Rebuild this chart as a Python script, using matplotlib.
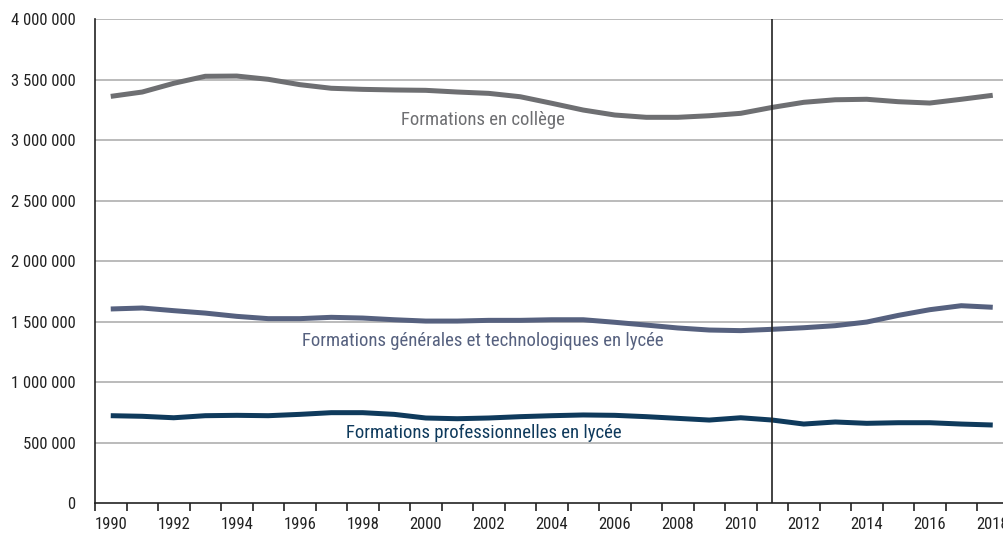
import matplotlib
matplotlib.use("Agg")
import matplotlib.pyplot as plt
from matplotlib.ticker import FixedLocator, FuncFormatter, NullFormatter

plt.rcParams['font.family'] = ['Liberation Sans Narrow', 'Roboto Condensed', 'DejaVu Sans Condensed', 'DejaVu Sans']

years = list(range(1990, 2019))
college = [3363000, 3399000, 3471000, 3529000, 3531000, 3504000, 3460000, 3430000,
           3421000, 3416000, 3413000, 3399000, 3388000, 3360000, 3306000, 3250000,
           3209000, 3190000, 3190000, 3203000, 3223000, 3272000, 3314000, 3335000,
           3339000, 3319000, 3308000, 3339000, 3372000]
generales = [1606000, 1614000, 1592000, 1572000, 1545000, 1526000, 1526000, 1537000,
             1531000, 1517000, 1506000, 1506000, 1512000, 1512000, 1517000, 1517000,
             1496000, 1473000, 1449000, 1432000, 1427000, 1438000, 1451000, 1468000,
             1498000, 1553000, 1600000, 1633000, 1620000]
pro = [724000, 719000, 707000, 724000, 727000, 724000, 735000, 749000,
       749000, 735000, 705000, 699000, 705000, 716000, 724000, 730000,
       727000, 716000, 702000, 688000, 707000, 688000, 655000, 672000,
       661000, 666000, 666000, 655000, 647000]
labels = ["Formations en collège",
          "Formations générales et technologiques en lycée",
          "Formations professionnelles en lycée"]
colors = ["#6e6f72", "#56617f", "#0f3a5c"]
break_year = 2011

fig = plt.figure(figsize=(10.04, 5.34), dpi=100)
ax = fig.add_axes([95/1004, 30.7/534, 913.5/1004, 484/534])

ax.set_xlim(1989.5, 2018.5)
ax.set_ylim(0, 4000000)

for y in range(500000, 4000001, 500000):
    ax.axhline(y, color="#a8a8a8", lw=1.1, zorder=1)

for series, c in zip([college, generales, pro], colors):
    ax.plot(years, series, color=c, lw=3.6, zorder=3, solid_capstyle='butt')

ax.axvline(break_year, color="#222222", lw=1.2, zorder=4)

ax.text(2001.8, 3168000, labels[0], color=colors[0], fontsize=13.5, ha='center', va='center')
ax.text(2001.8, 1341000, labels[1], color=colors[1], fontsize=13.5, ha='center', va='center')
ax.text(2001.85, 583000, labels[2], color=colors[2], fontsize=13.5, ha='center', va='center')

for s in ['top', 'right']:
    ax.spines[s].set_visible(False)
ax.spines['left'].set_color('#222222')
ax.spines['bottom'].set_color('#222222')
ax.spines['left'].set_linewidth(1.2)
ax.spines['bottom'].set_linewidth(1.2)

ax.set_yticks(range(0, 4000001, 500000))
ax.yaxis.set_major_formatter(FuncFormatter(lambda v, p: f"{v:,.0f}".replace(",", " ")))
ax.tick_params(axis='y', length=0, pad=14, labelsize=12, labelcolor='#222222')

ax.xaxis.set_major_locator(FixedLocator([y - 0.5 for y in years] + [years[-1] + 0.5]))
ax.xaxis.set_major_formatter(NullFormatter())
ax.xaxis.set_minor_locator(FixedLocator([y for y in years if y % 2 == 0]))
ax.xaxis.set_minor_formatter(FuncFormatter(lambda v, p: f"{int(round(v))}"))
ax.tick_params(axis='x', which='major', length=6, width=1.2, color='#222222', direction='out')
ax.tick_params(axis='x', which='minor', length=0, pad=10, labelsize=12, labelcolor='#222222')

fig.savefig("out.png", dpi=100)
